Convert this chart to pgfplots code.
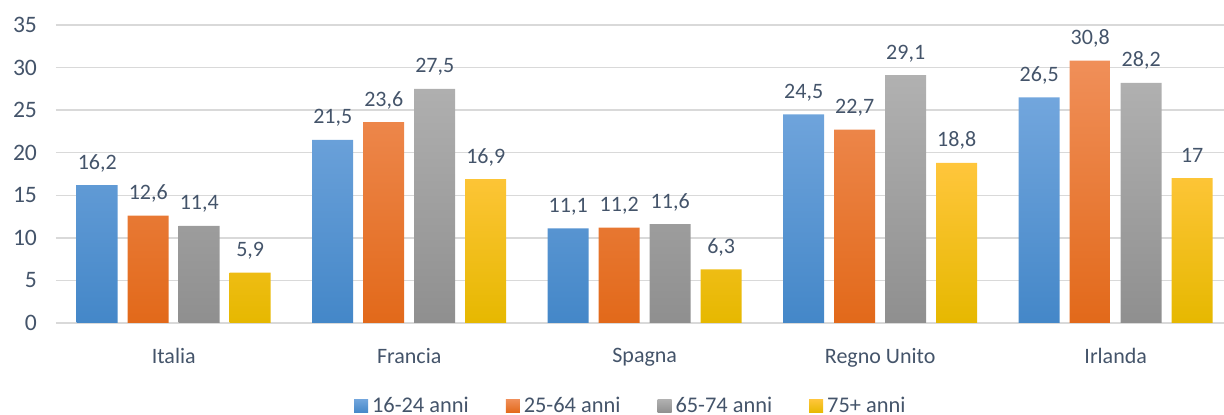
\documentclass[border=0pt]{standalone}
\usepackage{pgfplots}
\pgfplotsset{compat=1.18}
\usepackage{fontspec}
\setmainfont{Carlito}
\definecolor{txt}{HTML}{44546A}
\definecolor{gridc}{HTML}{D9D9D9}
\definecolor{bTop}{HTML}{72A6DD}
\definecolor{bMid}{HTML}{5599DA}
\definecolor{bBot}{HTML}{4487C8}
\definecolor{oTop}{HTML}{F08F59}
\definecolor{oMid}{HTML}{F07B2C}
\definecolor{oBot}{HTML}{E2691A}
\definecolor{gTop}{HTML}{B1B1B1}
\definecolor{gMid}{HTML}{A3A3A3}
\definecolor{gBot}{HTML}{8F8F8F}
\definecolor{yTop}{HTML}{FFC63C}
\definecolor{yMid}{HTML}{FFC000}
\definecolor{yBot}{HTML}{E6B800}
\newcommand{\fs}{\fontsize{11}{13}\selectfont}
\newcommand{\fy}{\fontsize{11.8}{14}\selectfont}
\newcommand{\fl}{\fontsize{11.2}{13}\selectfont}
\begin{document}
\begin{tikzpicture}
\begin{axis}[
  name=ax,
  scale only axis,
  x=117.75pt, y=4.257pt,
  xmin=-0.5, xmax=4.46, ymin=0, ymax=35,
  ybar=5pt, bar width=20.5pt,
  xtick={0,1,2,3,4},
  xticklabels={Italia,Francia,Spagna,Regno Unito,Irlanda},
  ytick={0,5,...,35},
  ymajorgrids, grid style={gridc, line width=0.75pt},
  axis line style={draw=none},
  tick style={draw=none},
  /pgf/number format/assume math mode=true,
  /pgf/number format/use comma,
  tick label style={font=\fs, text=txt},
  xticklabel style={yshift=-5pt},
  yticklabel style={font=\fy, xshift=-6pt},
  nodes near coords,
  every node near coord/.append style={font=\fs, text=txt, anchor=base, yshift=8pt},
  legend style={at={(0.493,-0.2785)}, anchor=center, draw=none, fill=none,
    font=\fl, text=txt, legend columns=4,
    /tikz/every even column/.append style={column sep=16.5pt}},
  legend image code/.code={\path[#1, draw=none] (0pt,-3.4pt) rectangle (7pt,3.4pt);},
  clip=true,
]
\addplot[draw=none, top color=bTop, middle color=bMid, bottom color=bBot] coordinates {(0,16.2) (1,21.5) (2,11.1) (3,24.5) (4,26.5)};
\addplot[draw=none, top color=oTop, middle color=oMid, bottom color=oBot] coordinates {(0,12.6) (1,23.6) (2,11.2) (3,22.7) (4,30.8)};
\addplot[draw=none, top color=gTop, middle color=gMid, bottom color=gBot] coordinates {(0,11.4) (1,27.5) (2,11.6) (3,29.1) (4,28.2)};
\addplot[draw=none, top color=yTop, middle color=yMid, bottom color=yBot] coordinates {(0,5.9) (1,16.9) (2,6.3) (3,18.8) (4,17)};
\legend{16-24 anni,25-64 anni,65-74 anni,75+ anni}
\end{axis}
\pgfresetboundingbox
\path ([shift={(-28pt,-46pt)}]ax.south west) rectangle ([shift={(0pt,12.5pt)}]ax.north east);
\end{tikzpicture}
\end{document}
